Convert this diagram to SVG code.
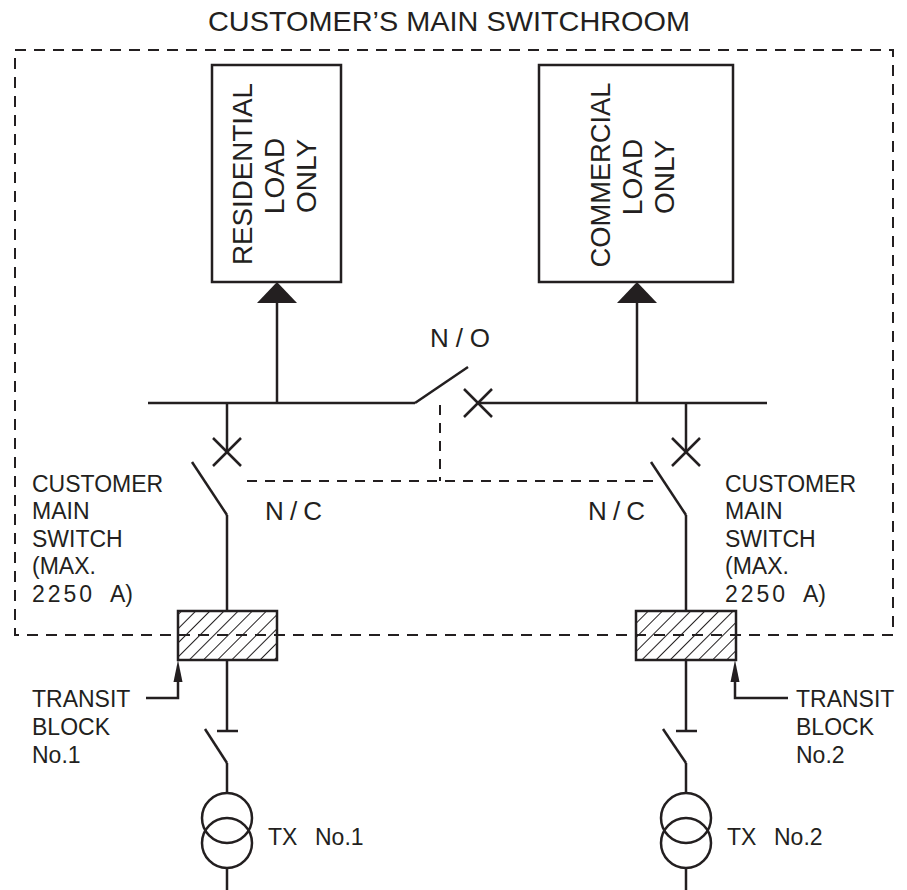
<svg xmlns="http://www.w3.org/2000/svg" width="907" height="890" viewBox="0 0 907 890">
<style>
.ln{stroke:#231f20;stroke-width:2.5;fill:none}
.dsh{stroke:#231f20;stroke-width:2;fill:none;stroke-dasharray:11 8}
.box{stroke:#231f20;stroke-width:2.5;fill:#fff}
.t{font-family:"Liberation Sans",Arial,sans-serif;fill:#231f20}
.s23{font-size:23px}
.s26{font-size:26px}
.s28{font-size:28px}
.fill{fill:#231f20;stroke:none}
</style>
<defs>
<pattern id="hatch" width="10" height="10" patternUnits="userSpaceOnUse" patternTransform="rotate(45)">
<line x1="0" y1="-1" x2="0" y2="11" stroke="#231f20" stroke-width="2"/>
</pattern>
</defs>
<rect width="907" height="890" fill="#fff"/>

<g id="switchroom">
<rect class="dsh" x="15" y="50" width="878" height="585"/>
<text class="t s28" x="449" y="31" text-anchor="middle" textLength="482" lengthAdjust="spacingAndGlyphs">CUSTOMER’S MAIN SWITCHROOM</text>
</g>

<g id="connectors">
<line class="ln" x1="148" y1="403" x2="415" y2="403"/>
<line class="ln" x1="478" y1="403" x2="767" y2="403"/>
<line class="ln" x1="277" y1="403" x2="277" y2="300"/>
<line class="ln" x1="637" y1="403" x2="637" y2="300"/>
<line class="ln" x1="227" y1="403" x2="227" y2="452"/>
<line class="ln" x1="686" y1="403" x2="686" y2="452"/>
<line class="ln" x1="227" y1="515" x2="227" y2="611"/>
<line class="ln" x1="686" y1="515" x2="686" y2="611"/>
<line class="ln" x1="227" y1="660" x2="227" y2="731"/>
<line class="ln" x1="686" y1="660" x2="686" y2="731"/>
<line class="ln" x1="227" y1="763" x2="227" y2="793"/>
<line class="ln" x1="686" y1="763" x2="686" y2="793"/>
<line class="ln" x1="227" y1="868" x2="227" y2="890"/>
<line class="ln" x1="686" y1="868" x2="686" y2="890"/>
<line class="dsh" x1="440" y1="405" x2="440" y2="481" style="stroke-dasharray:10 8"/>
<line class="dsh" x1="247" y1="481" x2="655" y2="481" style="stroke-dasharray:10 8"/>
<polyline class="ln" points="146,698 178,698 178,680"/>
<polygon class="fill" points="178,660 173.5,682 182.5,682"/>
<polyline class="ln" points="788,698 735,698 735,680"/>
<polygon class="fill" points="735,660 730.5,682 739.5,682"/>
</g>

<g id="residential-load">
<rect class="box" x="212" y="65" width="129" height="217"/>
<polygon class="fill" points="277,282 257,303 297,303"/>
<g class="t s28" text-anchor="middle">
<text transform="translate(252,174) rotate(-90)" textLength="182" lengthAdjust="spacingAndGlyphs">RESIDENTIAL</text>
<text transform="translate(284,176) rotate(-90)">LOAD</text>
<text transform="translate(316,176) rotate(-90)">ONLY</text>
</g>
</g>

<g id="commercial-load">
<rect class="box" x="539" y="65" width="194" height="217"/>
<polygon class="fill" points="637,282 617,303 657,303"/>
<g class="t s28" text-anchor="middle">
<text transform="translate(610,175) rotate(-90)" textLength="185" lengthAdjust="spacingAndGlyphs">COMMERCIAL</text>
<text transform="translate(642,177) rotate(-90)">LOAD</text>
<text transform="translate(674,177) rotate(-90)">ONLY</text>
</g>
</g>

<g id="bus-coupler">
<line class="ln" x1="415" y1="403" x2="468" y2="367"/>
<line class="ln" x1="464" y1="389" x2="492" y2="417"/>
<line class="ln" x1="464" y1="417" x2="492" y2="389"/>
<text class="t s26" x="430" y="347" textLength="60" lengthAdjust="spacing">N/O</text>
</g>

<g id="main-switch-1">
<line class="ln" x1="213" y1="438" x2="241" y2="466"/>
<line class="ln" x1="213" y1="466" x2="241" y2="438"/>
<line class="ln" x1="192" y1="462" x2="227" y2="515"/>
<text class="t s26" x="265" y="520" textLength="57" lengthAdjust="spacing">N/C</text>
<g class="t s23">
<text x="32" y="492">CUSTOMER</text>
<text x="32" y="519">MAIN</text>
<text x="32" y="547">SWITCH</text>
<text x="32" y="574">(MAX.</text>
<text x="32" y="602"><tspan letter-spacing="3">2250</tspan> <tspan x="110">A)</tspan></text>
</g>
</g>

<g id="main-switch-2">
<line class="ln" x1="672" y1="438" x2="700" y2="466"/>
<line class="ln" x1="672" y1="466" x2="700" y2="438"/>
<line class="ln" x1="651" y1="462" x2="686" y2="515"/>
<text class="t s26" x="588" y="520" textLength="57" lengthAdjust="spacing">N/C</text>
<g class="t s23">
<text x="725" y="492">CUSTOMER</text>
<text x="725" y="519">MAIN</text>
<text x="725" y="547">SWITCH</text>
<text x="725" y="574">(MAX.</text>
<text x="725" y="602"><tspan letter-spacing="3">2250</tspan> <tspan x="803">A)</tspan></text>
</g>
</g>

<g id="transit-block-1">
<rect x="178" y="611" width="99" height="49" fill="url(#hatch)" stroke="#231f20" stroke-width="2.5"/>
<g class="t s23">
<text x="32" y="707">TRANSIT</text>
<text x="32" y="735">BLOCK</text>
<text x="32" y="763">No.1</text>
</g>
</g>

<g id="transit-block-2">
<rect x="636" y="611" width="100" height="49" fill="url(#hatch)" stroke="#231f20" stroke-width="2.5"/>
<g class="t s23">
<text x="796" y="707">TRANSIT</text>
<text x="796" y="735">BLOCK</text>
<text x="796" y="763">No.2</text>
</g>
</g>

<g id="tx-switch-1">
<line class="ln" x1="217" y1="731" x2="238" y2="731"/>
<line class="ln" x1="205" y1="729" x2="227" y2="763"/>
</g>
<g id="tx-switch-2">
<line class="ln" x1="676" y1="731" x2="697" y2="731"/>
<line class="ln" x1="663" y1="729" x2="686" y2="763"/>
</g>

<g id="tx-1">
<circle class="ln" cx="227" cy="818" r="25"/>
<circle class="ln" cx="227" cy="843" r="25"/>
<text class="t s23" x="268" y="845">TX <tspan x="315">No.1</tspan></text>
</g>
<g id="tx-2">
<circle class="ln" cx="686" cy="818" r="25"/>
<circle class="ln" cx="686" cy="843" r="25"/>
<text class="t s23" x="727" y="845">TX <tspan x="774">No.2</tspan></text>
</g>
</svg>
